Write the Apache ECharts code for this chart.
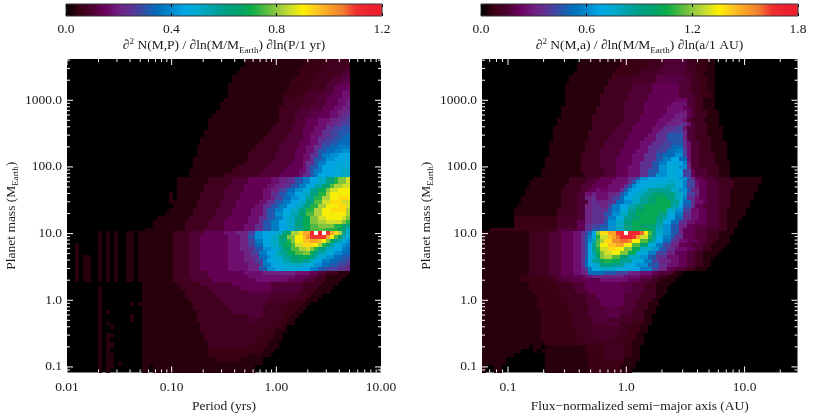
<!DOCTYPE html>
<html>
<head>
<meta charset="utf-8">
<style>html,body{margin:0;background:#fff}#chart{width:830px;height:415px}</style>
<script src="https://cdn.jsdelivr.net/npm/echarts@6/dist/echarts.min.js"></script>
</head>
<body>
<div id="chart"></div>
<script>
// axis ranges and tick labels
const leftXRange = [0.01, 10];
const rightXRange = [0.0603, 28];
const massRange = [0.0825, 4160];
const leftXTicks = [0.01, 0.1, 1, 10];
const leftXLabels = ["0.01", "0.10", "1.00", "10.00"];
const rightXTicks = [0.1, 1, 10];
const rightXLabels = ["0.1", "1.0", "10.0"];
const massTicks = [0.1, 1, 10, 100, 1000];
const massLabels = ["0.1", "1.0", "10.0", "100.0", "1000.0"];
const leftScaleMax = 1.2;
const rightScaleMax = 1.8;
const palette = ["#000000", "#3a0012", "#4e0032", "#6c0060", "#702080", "#5c3494", "#2c52a8", "#0070bc", "#0088cc", "#00a8e4", "#00aad0", "#00a2ac", "#00a088", "#00a070", "#08ac4c", "#48b840", "#90c840", "#c8dc30", "#fff000", "#ffc820", "#f8a028", "#f08030", "#f03030", "#ee2030", "#ee2030"];

// cell levels, 80 rows from the top of each panel.
// each row is pairs of (end column, level), level 35 is the top of the colour bar and 36 is above it
const stripeA = [8,0,9,1,10,0,11,1,12,0,13,1,15,0,17,1,18,0,19,1];
const stripeB = [2,0,3,1,8,0,9,1,10,0,11,1,12,0,13,1,15,0,17,1,18,0,19,1];
const stripeC = [2,0,3,1,4,0,6,1,8,0,9,1,10,0,11,1,12,0,13,1,15,0,17,1,18,0,19,1];
const leftRows = [
  [45,0,60,1,66,1.5,72,2],
  [45,0,60,1,65,1.5,72,2],
  [44,0,59,1,65,1.5,71,2,72,2.5],
  [43,0,59,1,64,1.5,70,2,72,3],
  [42,0,58,1,63,1.5,68,2,71,3,72,3.5],
  [42,0,57,1,63,1.5,67,2,70,3,72,3.5],
  [41,0,57,1,62,1.5,66,2,69,3,72,4],
  [41,0,56,1,62,1.5,66,2,68,3,71,4,72,4.5],
  [41,0,56,1,61,1.5,65,2.5,68,3,70,4,72,5],
  [41,0,55,1,60,1.5,64,2.5,67,3,70,4,72,5],
  [40,0,55,1,60,2,63,2.5,66,3,69,4,71,5,72,5.5],
  [39,0,55,1,60,2,63,2.5,66,3,69,4,71,5,72,6],
  [39,0,54,1,59,2,62,2.5,65,3,68,4,70,5,72,6],
  [38,0,54,1,59,2,62,3,65,3.5,67,4,69,5,71,6,72,7],
  [37,0,54,1,58,2,62,3,64,3.5,67,4,69,5,70,6,72,7],
  [36,0,54,1,58,2,61,3,64,4,67,5,69,6,71,7,72,8],
  [36,0,53,1,58,2,61,3,64,4,66,5,68,6,70,7,72,8],
  [36,0,52,1,57,2,60,3,63,4,66,5,68,7,70,8,72,9],
  [35,0,52,1,57,2,60,3,63,4,65,5,67,7,69,8,72,9],
  [35,0,51,1,56,2,60,3,62,4,65,5,67,7,69,8,71,9,72,10],
  [34,0,50,1,56,2,60,3,62,4,64,5,66,7,68,8,70,9,72,10],
  [34,0,49,1,55,2,59,3,62,4,64,5,65,7,67,8,69,9,72,10],
  [33,0,48,1,54,2,59,3,61,4,63,5,65,7,67,9,69,10,72,11],
  [33,0,47,1,54,2,58,3,61,4,63,5,64,7,66,9,68,10,70,11,72,12],
  [33,0,46,1,53,2,58,3,60,4,62,5,64,7,65,9,67,11,69,12,72,13],
  [32,0,46,1,53,2,58,3,60,4,62,5,63,7,65,9,66,10,68,12,72,13],
  [32,0,45,1,52,2,57,3,60,4,61,5,63,7,64,9,66,11,69,13,72,14],
  [32,0,43,1,51,2,56,3,60,4,61,5,62,7,64,9,65,11,68,13,72,14],
  [31,0,42,1,50,2,55,3,59,4,61,5,62,7,63,9,65,11,68,13,70,14,72,15],
  [31,0,40,1,49,2,54,3,59,4,60,5,62,7,63,9,64,11,68,13,70,14,72,15],
  [28,0,36,1,42,2,46,3,52,4,54,5,56,6,58,7,60,9,62,11,64,13,66,15,68,18,69,21,71,23,72,25],
  [28,0,36,1,42,2,46,3,52,4,54,5,56,6,58,7,60,9,62,11,64,13,66,15,68,18,69,21,71,23,72,25],
  [28,0,35,1,41,2,45,3,51,4,53,5,55,6,57,7,59,9,61,11,63,13,65,16,67,19,68,22,70,24,72,25],
  [28,0,35,1,40,2,45,3,50,4,52,5,54,6,56,8,58,10,60,12,62,14,64,17,66,20,67,23,69,25,72,26],
  [26,0,27,1,28,0,34,1,40,2,44,3,50,4,52,5,54,7,56,9,58,11,60,13,62,15,64,18,66,21,67,24,72,26],
  [26,0,27,1,28,0,34,1,40,2,44,3,50,4,52,5,53,6,55,8,57,10,59,12,61,14,63,17,65,21,67,24,69,26,72,27],
  [26,0,33,1,39,2,43,3,49,4,51,5,53,7,55,9,57,11,59,13,61,15,63,18,65,22,67,25,70,27,72,25],
  [27,0,33,1,39,2,43,3,48,4,50,5,52,7,54,9,56,11,58,13,60,15,62,18,64,21,66,24,69,26,71,27,72,25],
  [26,0,32,1,38,2,42,3,47,4,50,5,51,7,53,9,55,11,57,13,59,15,61,18,63,21,65,24,67,26,71,27,72,24],
  [25,0,32,1,38,2,42,3,47,4,50,5,51,7,53,9,55,12,57,14,59,16,61,19,63,22,65,24,71,26,72,24],
  [23,0,31,1,37,2,41,3,46,4,49,5,51,7,53,9,55,11,56,13,58,15,60,17,62,20,64,23,66,25,70,26,71,25,72,23],
  [22,0,30,1,36,2,40,3,46,4,49,5,50,7,52,9,54,11,56,13,58,15,60,18,62,20,64,23,66,24,70,25,71,23,72,21],
  [22,0,30,1,36,2,40,3,45,4,48,5,50,7,52,9,54,11,56,13,58,15,60,18,62,20,64,22,68,23,70,21,71,19,72,18],
  [20,0,30,1,35,2,40,3,45,4,48,5,50,7,52,9,54,11,56,13,58,15,60,17,62,20,66,22,69,21,71,19,72,15],
  [...stripeA,27,1,31,2,35,3,40,4,43,5,46,6,48,8,50,12,53,13,55,15,57,19,59,24,60,27,62,29,63,33,64,36,65,33,66,36,67,32,68,29,69,27,70,24,71,17,72,15],
  [...stripeA,27,1,31,2,34,3,41,4,44,5,46,6,48,9,50,12,52,13,54,15,56,19,58,23,60,26,61,28,62,30,66,32,67,29,68,26,69,22,70,19,71,16,72,14],
  [...stripeA,27,1,31,2,34,3,41,4,44,5,46,6,48,8,50,11,52,13,54,15,56,18,57,21,58,23,60,26,62,28,64,29,65,28,66,26,67,23,68,20,69,17,70,16,71,14,72,12],
  [...stripeB,27,1,31,2,34,3,41,4,44,5,46,6,48,8,50,10,52,13,54,15,55,17,57,20,58,22,60,25,63,27,64,26,65,24,66,21,67,19,68,16,70,14,71,12,72,11],
  [...stripeB,27,1,31,2,34,3,41,4,44,5,46,6,48,7,50,9,52,12,54,14,55,16,57,19,59,22,61,24,62,25,63,23,64,21,66,18,68,15,70,13,71,11,72,10],
  [...stripeB,27,1,31,2,34,3,41,4,45,5,47,6,49,8,51,11,53,13,54,15,56,17,58,20,60,22,62,23,63,20,64,18,66,16,68,14,70,12,72,10],
  [...stripeC,27,1,31,2,34,3,41,4,45,5,47,6,49,7,51,10,52,12,53,14,55,15,57,17,59,19,62,20,63,18,64,16,66,14,68,12,70,10,72,9],
  [...stripeC,27,1,31,2,34,3,41,4,45,5,48,6,50,8,51,11,53,13,55,14,57,16,60,18,62,17,63,15,65,13,67,11,69,10,71,9,72,8],
  [...stripeC,27,1,31,2,34,3,41,4,46,5,49,6,50,8,52,11,54,13,56,14,60,15,63,14,65,12,67,10,69,9,71,8,72,7],
  [...stripeC,27,1,31,2,34,3,41,4,46,5,49,6,51,9,53,12,55,13,59,14,62,13,64,11,66,9,69,8,71,7,72,6],
  [...stripeC,27,1,31,2,36,3,45,4,50,5,58,6,62,5,64,4,66,3,69,2,72,1],
  [...stripeC,27,1,31,2,36,3,46,4,58,5,62,4,64,3,66,2,71,1],
  [...stripeC,27,1,32,2,37,3,48,4,56,5,60,4,63,3,66,2,70,1],
  [19,0,28,1,34,2,42,3,52,4,60,3,65,2,69,1],
  [8,0,9,1,19,0,29,1,36,2,44,3,52,4,60,3,64,2,68,1],
  [8,0,9,1,19,0,30,1,37,2,46,3,52,3.5,59,3,63,2,67,1],
  [8,0,9,1,19,0,30,1,38,2,52,3,59,2.5,62,2,65,1],
  [8,0,9,1,19,0,31,1,39,2,52,3,58,2.5,61,2,64,1],
  [8,0,9,1,16,0,17,1,18,0,32,1,40,2,51,3,57,2,60,1.5,62,1],
  [8,0,9,1,19,0,32,1,41,2,50,3,56,2,59,1.5,61,1],
  [8,0,9,1,10,0,11,1,19,0,33,1,42,2,50,3,55,2,58,1.5,60,1],
  [8,0,9,1,16,0,17,1,19,0,33,1,46,2,50,3,55,2,57,1.5,59,1],
  [8,0,9,1,16,0,17,1,19,0,33,1,46,2,49,2.5,54,2,56,1.5,58,1],
  [8,0,9,1,10,0,11,1,19,0,34,1,46,2,49,2.5,54,2,56,1.5,58,1],
  [8,0,9,1,11,0,12,1,19,0,34,1,46,2,53,2,55,1.5,56,1],
  [8,0,9,1,19,0,34,1,50,2,53,1.5,56,1],
  [8,0,9,1,10,0,12,1,19,0,35,1,50,2,53,1.5,55,1],
  [8,0,9,1,10,0,11,1,19,0,35,1,49,2,52,1.5,55,1],
  [8,0,9,1,10,0,12,1,19,0,36,1,48,2,51,1.5,54,1],
  [8,0,9,1,10,0,12,1,19,0,36,1,47,2,51,1.5,54,1],
  [8,0,9,1,10,0,11,1,19,0,36,1,50,1.5,53,1],
  [8,0,9,1,10,0,12,1,19,0,36,1,46,1.5,52,1],
  [8,0,9,1,10,0,12,1,19,0,38,1,44,1.5,50,1],
  [8,0,9,1,10,0,12,1,13,0,14,1,19,0,50,1],
  [8,0,9,1,10,0,12,1,19,0,21,1,22,0,48,1],
  [8,0,9,1,10,0,11,1,19,0,21,1,22,0,48,1]
];
const rightRows = [
  [25,0,35,1,42,1.5,46,2,52,3,54,2,57,1.5,59,1],
  [24,0,35,1,42,1.5,46,2,52,3,54,2,57,1.5,59,1],
  [24,0,34,1,41,1.5,45,2,52,3,54,2,57,1.5,59,1],
  [23,0,33,1,40,1.5,45,2.5,51,3,54,2.5,56,1.5,59,1],
  [22,0,33,1,39,2,44,2.5,51,3.5,53,3,55,2,57,1.5,59,1],
  [22,0,32,1,38,2,44,2.5,50,3.5,53,3,55,2,57,1.5,59,1],
  [21,0,32,1,38,2,43,3,50,4,53,3,55,2,57,1.5,59,1],
  [21,0,31,1,38,2,43,3,50,4,53,3,55,2,57,1.5,59,1],
  [21,0,31,1,37,2,43,3,50,4,53,3,55,2,58,1.5,59,1],
  [21,0,30,1,37,2,42,3,50,4,54,3,56,2,58,1.5,59,1],
  [21,0,30,1,37,2,42,3,49,4,52,4.5,54,3,56,2,59,1],
  [21,0,30,1,36,2,41,3,48,4,52,5,54,3,56,2,59,1],
  [20,0,29,1,36,2,41,3,47,4,51,5,53,4,54,3,56,2,59,1],
  [20,0,29,1,36,2,41,3,47,4,50,5,52,5.5,53,4,54,3,57,2,60,1],
  [20,0,28,1,36,2,40,3,46,4,49,5,52,6,53,4,54,3,57,2,60,1],
  [19,0,28,1,36,2,40,3,45,4,48,5,51,6,52,5,53,3,56,2,60,1],
  [19,0,28,1,35,2,39,3,44,4,47,5,50,6,52,7,53,5,54,3,57,2,60,1],
  [18,0,28,1,34,2,38,3,43,4,46,5,49,7,51,8,52,5,54,3,57,2,61,1],
  [18,0,27,1,33,2,38,3,43,4,45,5,48,7,51,8,52,6,54,3,57,2,61,1],
  [18,0,27,1,33,2,37,3,42,4,44,5,47,7,51,9,52,6,54,3,57,2,61,1],
  [18,0,27,1,32,2,37,3,41,4,44,5,47,7,51,9,52,6,54,3,58,2,61,1],
  [17,0,26,1,31,2,36,3,40,4,43,5,46,7,48,8,51,9,52,7,53,5,55,3,58,2,62,1],
  [17,0,26,1,31,2,36,3,40,4,42,5,45,7,48,8,51,10,52,7,53,5,55,3,58,2,62,1],
  [17,0,26,1,30,2,35,3,39,4,42,5,44,7,47,8,49,10,51,11,52,8,53,5,55,3,58,2,62,1],
  [17,0,25,1,30,2,35,3,38,4,41,5,44,7,46,9,49,10,51,12,52,8,53,5,55,3,59,2,62,1],
  [16,0,25,1,30,2,34,3,38,4,41,5,44,7,46,9,48,11,50,13,52,10,53,5,55,3,59,2,62,1],
  [16,0,25,1,30,2,34,3,38,4,40,5,43,7,45,9,47,11,51,13,52,11,53,6,55,3,59,2,63,1],
  [16,0,25,1,30,2,34,3,37,4,40,5,43,7,45,9,47,12,50,14,52,12,53,6,55,3,60,2,63,1],
  [15,0,25,1,31,2,34,3,37,4,40,5,42,7,45,9,47,12,49,14,51,13,53,8,54,4,57,3,60,2,63,1],
  [15,0,26,1,31,2,34,3,37,4,40,5,42,7,44,9,47,12,49,14,51,13,53,8,54,4,57,3,60,2,63,1],
  [13,0,22,1,27,2,30,3,34,4,37,5,39,7,40,9,42,12,46,13,50,14,52,12,53,9,54,6,56,4,59,3,63,2,71,1],
  [12,0,22,1,26,2,29,3,33,4,37,5,38,7,39,9,40,12,42,13,47,14,49,15,51,14,52,11,54,8,55,5,57,4,60,3,64,2,71,1],
  [12,0,21,1,25,2,28,3,32,4,36,5,37,7,38,9,39,12,41,13,44,14,47,15,49,16,51,14,52,11,54,8,55,5,57,4,60,3,64,2,70,1],
  [11,0,20,1,25,2,27,3,29,4,30,5,32,4.5,35,5,36,7,37,9,38,12,40,13,42,15,45,17,48,17,50,15,52,12,53,9,55,6,57,4,60,3,63,2,70,1],
  [11,0,20,1,24,2,26,3,28,5,29,6,32,5,34,6,35,7,36,9,37,11,39,13,41,15,43,17,46,19,49,18,51,15,52,12,54,8,55,6,57,4,60,3,63,2,69,1],
  [10,0,20,1,24,2,26,3,28,6,29,7,32,5,33,6,35,8,36,10,38,13,40,15,42,17,44,19,47,20,49,18,51,15,52,11,54,7,55,5,57,4,60,3,63,2,69,1],
  [10,0,20,1,24,2,27,3,28,6,29,7,32,6,34,7,36,10,38,12,40,15,42,17,44,19,48,20,50,17,51,14,53,10,54,7,56,5,57,4,60,3,63,2,68,1],
  [9,0,20,1,24,2,26,3,28,6,30,7,32,6,33,8,35,11,37,13,39,16,41,18,44,20,48,20,50,16,51,13,53,9,54,7,56,4,60,3,63,2,68,1],
  [8,0,19,1,24,2,26,3,28,6,32,7,33,9,35,11,37,14,39,17,41,19,47,20,49,15,51,12,53,8,55,5,57,4,60,3,62,2,67,1],
  [8,0,19,1,24,2,26,3,28,6,31,7,33,9,35,12,37,15,39,18,45,20,47,18,49,14,51,11,53,7,55,5,57,4,60,3,62,2,67,1],
  [8,0,19,1.5,24,2.5,26,3,28,6,31,7,32,8,34,11,36,14,38,17,40,19,44,20,46,18,47,16,49,13,51,10,53,7,55,5,57,4,60,3,62,2,66,1],
  [8,0,19,1.5,24,2.5,26,4,28,6,31,7,32,9,34,12,36,15,38,18,44,20,46,17,48,13,50,10,52,7,54,5,57,4,60,3,62,2,65,1],
  [8,0,19,1.5,24,2.5,26,4,28,7,30,8,32,9,34,12,36,15,38,18,40,20,44,19,46,16,48,12,50,9,52,6,54,4,57,3.5,60,3,62,2,65,1],
  [2,0,19,1.5,24,3,26,4,28,7,30,9,32,10,34,12,36,15,38,18,43,20,44,18,46,15,48,12,50,9,51,6,54,4,57,3,60,2.5,62,2,64,1],
  [12,1,17,2,20,3,23,4,25,5,26,7,27,8,28,10,29,13,30,23,32,27,34,29,35,32,36,33,37,36,40,33,41,31,42,26,43,22,44,18,46,15,48,12,50,9,51,6,54,4,57,3,60,2,64,1],
  [12,1,17,2,20,3,23,4,25,5,26,7,27,9,28,11,29,14,30,21,32,25,33,28,34,29,35,31,38,33,39,32,40,29,42,25,43,21,44,17,46,14,48,11,49,9,51,7,54,4,57,3,60,2,63,1],
  [12,1,17,2,20,3,23,4,25,5,26,7,27,9,28,12,29,16,30,22,31,24,33,27,35,30,37,31,38,30,40,26,42,22,43,19,44,16,46,13,48,10,50,7,52,5,55,4,57,3,59,2,63,1],
  [12,1,17,2,20,3,23,4,25,5,26,7,27,9,28,13,29,17,30,22,32,26,34,28,36,29,38,26,40,22,42,19,44,14,46,11,48,8,50,6,53,4,56,3,58,2,62,1],
  [12,1,17,2,20,3,23,4,25,5,26,7,27,9,28,13,29,17,30,21,32,25,34,27,36,26,38,23,40,20,43,15,45,12,47,9,49,7,52,5,54,4,56,3,58,2,61,1],
  [12,1,17,2,20,3,23,4,25,5,26,7,27,9,28,13,29,16,30,20,31,23,33,25,35,26,37,23,39,20,42,14,44,11,47,8,49,6,52,4,54,3,56,2,60,1],
  [12,1,17,2,20,3,23,4,25,5,26,7,27,9,28,14,29,15,30,19,31,23,33,24,35,22,37,19,40,15,42,12,44,9,47,7,50,5,52,4,54,3,56,2,59,1],
  [12,1,17,2,20,3,23,4,25,5,26,7,27,10,28,14,30,17,31,20,33,21,35,20,38,17,41,14,43,11,45,8,48,6,50,5,52,4,54,3,56,2,58,1],
  [12,1,17,2,20,3,23,4,25,5,26,7,27,10,29,13,30,15,33,18,36,17,39,14,42,12,45,9,47,7,50,5,52,4,54,3,56,2,58,1],
  [12,1,17,2,20,3,23,4,25,5,26,6,27,8,28,11,30,14,34,15,37,14,40,13,43,11,45,8,47,6,49,4,52,3,54,2,57,1],
  [12,1,17,2,20,3,23,4,25,5,27,6,31,10,34,9,37,8,40,6,43,5,45,4,48,3,49,2,51,1],
  [10,1,16,1.5,18,2,20,3,23,3.5,26,4,28,5,36,6,40,5,43,4,45,3,47,2,50,1],
  [10,1,16,1.5,19,2,22,3,25,3.5,30,4,37,5,40,4,43,3,45,2,49,1],
  [12,1,19,1.5,23,2,26,3,35,4,38,3.5,41,3,44,2,48,1],
  [12,1,19,1.5,23,2,26,3,36,4,38,3.5,41,3,44,2,47,1],
  [13,1,20,1.5,24,2,27,3,36,4,38,3.5,41,3,44,2,47,1],
  [14,1,20,1.5,26,2,29,3,36,4,40,3,44,2,46,1],
  [14,1,21,1.5,26,2,30,3,36,4,39,3,43,2,45,1],
  [14,1,22,1.5,27,2,30,3,36,4,39,3,42,2,45,1],
  [14,1,22,1.5,27,2,31,3,35,3.5,39,3,42,2,44,1],
  [15,1,22,1.5,27,2,31,3,35,3.5,38,3,41,2,44,1],
  [15,1,23,1.5,27,2,32,3,35,3.5,38,2.5,41,2,43,1],
  [15,1,23,1.5,28,2,32,3,38,2.5,41,2,43,1],
  [15,1,23,1.5,28,2,35,3,38,2,41,1.5,43,1],
  [15,1,23,1.5,28,2,35,2.5,37,2,40,1.5,42,1],
  [15,1,24,1.5,28,2,35,2.5,37,2,40,1.5,42,1],
  [15,1,24,1.5,28,2,34,2.5,37,2,39,1.5,41,1],
  [15,1,24,1.5,29,2,33,2.5,36,2,39,1.5,41,1],
  [16,1,25,1.5,30,2,35,2,38,1.5,41,1],
  [12,1,13,0,15,1,16,0,26,1,31,1.5,36,2,38,1.5,40,1],
  [10,1,13,0,14,1,15,0,26,1,31,1.5,36,2,38,1.5,40,1],
  [8,1,16,0,27,1,31,1.5,36,2,38,1.5,40,1],
  [6,1,16,0,27,1,31,1.5,36,2,40,1],
  [6,1,16,0,27,1,31,1.5,36,1.5,39,1],
  [1,1,3,0,5,1,16,0,27,1,31,1.5,35,1.5,39,1],
  [1,1,3,0,5,1,16,0,27,1,31,1.5,35,1.5,38,1]
];

const GRID_SIZE = 80;
const TEXT_COLOR = "#1a1a1a";
const FONT = "'Liberation Serif', 'DejaVu Serif', serif";

// turn the rows into cells [x0, y0, x1, y1, value, scaleMax] on the log axes
function buildCells(rows, xRange, yRange, scaleMax) {
  const xLo = Math.log10(xRange[0]);
  const xStep = (Math.log10(xRange[1]) - xLo) / GRID_SIZE;
  const yHi = Math.log10(yRange[1]);
  const yStep = (yHi - Math.log10(yRange[0])) / GRID_SIZE;
  const cells = [];
  rows.forEach((row, r) => {
    let col = 0;
    for (let i = 0; i < row.length; i += 2) {
      for (; col < row[i]; col++) {
        if (row[i + 1] > 0) {
          cells.push([
            Math.pow(10, xLo + col * xStep),
            Math.pow(10, yHi - (r + 1) * yStep),
            Math.pow(10, xLo + (col + 1) * xStep),
            Math.pow(10, yHi - r * yStep),
            (row[i + 1] / 35) * scaleMax,
            scaleMax,
          ]);
        }
      }
    }
  });
  return cells;
}

// white inward ticks on all four sides, long at the decades and short between
function buildTicks(xRange, yRange) {
  const ticks = [];
  const addAxis = (range, add) => {
    for (let e = -3; e < 4; e++) {
      for (let m = 1; m < 10; m++) {
        const v = m * Math.pow(10, e);
        if (v >= range[0] && v <= range[1]) add(v, m === 1 ? 6 : 3);
      }
    }
  };
  addAxis(xRange, (v, len) => {
    ticks.push([v, yRange[0], 0, -1, len], [v, yRange[1], 0, 1, len]);
  });
  addAxis(yRange, (v, len) => {
    ticks.push([xRange[0], v, 1, 0, len], [xRange[1], v, -1, 0, len]);
  });
  return ticks;
}

function renderCell(params, api) {
  const a = api.coord([api.value(0), api.value(1)]);
  const b = api.coord([api.value(2), api.value(3)]);
  const x = Math.round(Math.min(a[0], b[0]));
  const y = Math.round(Math.min(a[1], b[1]));
  return {
    type: "rect",
    shape: {
      x: x,
      y: y,
      width: Math.round(Math.max(a[0], b[0])) - x,
      height: Math.round(Math.max(a[1], b[1])) - y,
    },
    // cells above the top of the colour bar are white
    style: { fill: api.value(4) > api.value(5) ? "#fff" : api.visual("color") },
  };
}

function renderTick(params, api) {
  const p = api.coord([api.value(0), api.value(1)]);
  const len = api.value(4);
  return {
    type: "line",
    shape: {
      x1: p[0],
      y1: p[1],
      x2: p[0] + api.value(2) * len,
      y2: p[1] + api.value(3) * len,
    },
    style: { stroke: "#fff", lineWidth: 1 },
  };
}

function tickFormatter(values, labels) {
  return (v) => {
    const i = values.findIndex((t) => Math.abs(Math.log10(v / t)) < 0.001);
    return i < 0 ? "" : labels[i];
  };
}

function logAxis(gridIndex, range, values, labels, extra, labelMargin) {
  return Object.assign(
    {
      type: "log",
      logBase: 10,
      gridIndex: gridIndex,
      min: range[0],
      max: range[1],
      axisLine: { show: false },
      axisTick: { show: false },
      splitLine: { show: false },
      minorTick: { show: false },
      axisLabel: {
        show: true,
        color: TEXT_COLOR,
        fontFamily: FONT,
        fontSize: 13.5,
        margin: labelMargin,
        hideOverlap: false,
        formatter: tickFormatter(values, labels),
      },
      nameLocation: "middle",
      nameTextStyle: { color: TEXT_COLOR, fontFamily: FONT, fontSize: 13.5 },
      z: 10,
    },
    extra
  );
}

const richName = {
  color: TEXT_COLOR,
  fontFamily: FONT,
  fontSize: 13.5,
  rich: {
    t: { color: TEXT_COLOR, fontFamily: FONT, fontSize: 13.5, lineHeight: 18 },
    u: { color: TEXT_COLOR, fontFamily: FONT, fontSize: 9, lineHeight: 18, verticalAlign: "top", padding: [0, 0, 4, 0] },
    s: { color: TEXT_COLOR, fontFamily: FONT, fontSize: 9, lineHeight: 18, verticalAlign: "bottom", padding: [5, 0, 0, 0] },
  },
};

function barAxes(gridIndex, scaleMax, interval, name) {
  const common = {
    type: "value",
    gridIndex: gridIndex,
    min: 0,
    max: scaleMax,
    interval: interval,
    splitLine: { show: false },
    axisLine: { show: false },
    axisTick: { show: true, inside: true, length: 3, lineStyle: { color: "#000" } },
    z: 12,
  };
  return [
    Object.assign({}, common, {
      position: "bottom",
      name: name,
      nameLocation: "middle",
      nameGap: 20,
      nameTextStyle: richName,
      axisLabel: {
        color: TEXT_COLOR,
        fontFamily: FONT,
        fontSize: 13.5,
        margin: 6,
        formatter: (v) => v.toFixed(1),
      },
    }),
    Object.assign({}, common, { position: "top", axisLabel: { show: false } }),
  ];
}

function colorBar(seriesIndex, scaleMax, left, length) {
  return {
    type: "continuous",
    seriesIndex: seriesIndex,
    dimension: 4,
    min: 0,
    max: scaleMax,
    orient: "horizontal",
    left: left,
    top: 4,
    itemWidth: 12,
    itemHeight: length,
    padding: 0,
    text: null,
    calculable: false,
    hoverLink: false,
    inRange: { color: palette },
    outOfRange: { color: "#fff" },
  };
}

function heatSeries(index, rows, xRange, scaleMax) {
  return {
    type: "custom",
    xAxisIndex: index,
    yAxisIndex: index,
    coordinateSystem: "cartesian2d",
    renderItem: renderCell,
    encode: { x: [0, 2], y: [1, 3] },
    data: buildCells(rows, xRange, massRange, scaleMax),
    silent: true,
    progressive: 0,
    animation: false,
    z: 2,
  };
}

function tickSeries(index, xRange) {
  return {
    type: "custom",
    xAxisIndex: index,
    yAxisIndex: index,
    coordinateSystem: "cartesian2d",
    renderItem: renderTick,
    encode: { x: 0, y: 1 },
    data: buildTicks(xRange, massRange),
    clip: false,
    silent: true,
    animation: false,
    z: 3,
  };
}

const massName = "{t|Planet mass (M}{s|Earth}{t|)}";
const massAxis = (gridIndex) =>
  logAxis(gridIndex, massRange, massTicks, massLabels, {
    name: massName,
    nameGap: 47,
    nameTextStyle: richName,
  }, 5);

const chart = echarts.init(document.getElementById("chart"), null, { renderer: "canvas" });
chart.setOption({
  animation: false,
  backgroundColor: "#fff",
  grid: [
    { left: 67, top: 59, width: 314, height: 313.5, show: true, backgroundColor: "#000", borderWidth: 0, outerBoundsMode: "none" },
    { left: 482, top: 59, width: 315.5, height: 313.5, show: true, backgroundColor: "#000", borderWidth: 0, outerBoundsMode: "none" },
    { left: 66, top: 4, width: 316, height: 12, show: true, backgroundColor: "transparent", borderColor: "#333", borderWidth: 1, z: 10, outerBoundsMode: "none" },
    { left: 481, top: 4, width: 317, height: 12, show: true, backgroundColor: "transparent", borderColor: "#333", borderWidth: 1, z: 10, outerBoundsMode: "none" },
  ],
  xAxis: [
    logAxis(0, leftXRange, leftXTicks, leftXLabels, { name: "Period (yrs)", nameGap: 24 }, 8),
    logAxis(1, rightXRange, rightXTicks, rightXLabels, { name: "Flux\u2212normalized semi\u2212major axis (AU)", nameGap: 24 }, 8),
    ...barAxes(2, leftScaleMax, 0.4, "{t|\u2202}{u|2}{t| N(M,P) / \u2202ln(M/M}{s|Earth}{t|) \u2202ln(P/1 yr)}"),
    ...barAxes(3, rightScaleMax, 0.6, "{t|\u2202}{u|2}{t| N(M,a) / \u2202ln(M/M}{s|Earth}{t|) \u2202ln(a/1 AU)}"),
  ],
  yAxis: [
    massAxis(0),
    massAxis(1),
    { type: "value", gridIndex: 2, min: 0, max: 1, show: false },
    { type: "value", gridIndex: 3, min: 0, max: 1, show: false },
  ],
  visualMap: [
    colorBar(0, leftScaleMax, 66, 316),
    colorBar(2, rightScaleMax, 481, 317),
  ],
  series: [
    heatSeries(0, leftRows, leftXRange, leftScaleMax),
    tickSeries(0, leftXRange),
    heatSeries(1, rightRows, rightXRange, rightScaleMax),
    tickSeries(1, rightXRange),
  ],
});
</script>
</body>
</html>
